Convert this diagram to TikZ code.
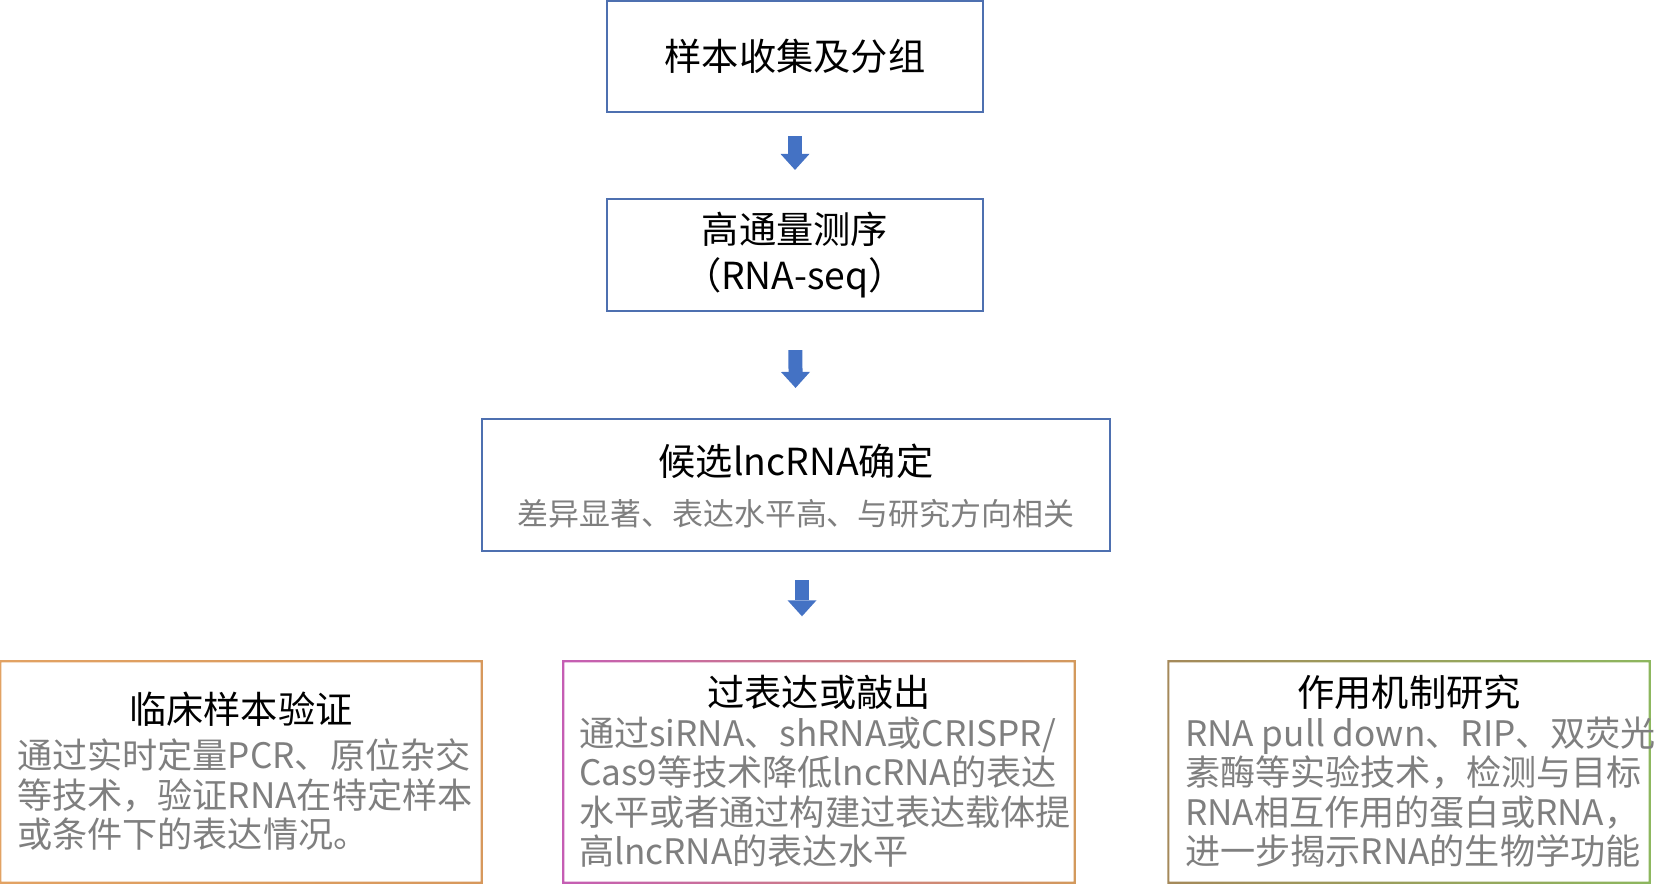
\documentclass[tikz,border=0pt]{standalone}
\usepackage{fontspec}
\setmainfont{Noto Sans CJK SC}
\usetikzlibrary{positioning,arrows.meta,calc}
\definecolor{boxblue}{HTML}{4E70B0}
\definecolor{arrblue}{HTML}{4472C4}
\definecolor{txtgrey}{HTML}{7F7F7F}
\definecolor{clinA}{HTML}{E2A263}
\definecolor{clinB}{HTML}{D7985C}
\definecolor{overA}{HTML}{C55DB4}
\definecolor{overB}{HTML}{D39A5C}
\definecolor{mechA}{HTML}{A5895A}
\definecolor{mechB}{HTML}{8DB75E}
\newcommand{\fsTitle}{\fontsize{10.6}{13.3}\selectfont}
\newcommand{\fsBody}{\fontsize{10}{11.2}\selectfont}
\newcommand{\fsSub}{\fontsize{8.8}{10.5}\selectfont}
\tikzset{
  fl box/.style={draw=boxblue, line width=0.6pt, fill=white, inner sep=0pt, align=center, font=\fsTitle},
  fl plain/.style={inner sep=0pt, fill=white},
  fl title/.style={inner sep=0pt, align=center, font=\fsTitle},
  fl sub/.style={inner sep=0pt, align=center, font=\fsSub, text=txtgrey},
  fl body/.style={inner sep=0pt, align=left, font=\fsBody, text=txtgrey, anchor=north west},
  fl arr/.style={arrblue, line width=1.4mm, -{Triangle[length=1.6mm, width=2.9mm, line width=0pt]}},
}

\begin{document}
\begin{tikzpicture}[x=1cm, y=1cm]
  \useasboundingbox (0,0) rectangle (16.59,-8.87);
  % main column
  \node[fl box, minimum width=3.76cm, minimum height=1.11cm] (col) at (7.95,-0.565) {样本收集及分组};
  \node[fl box, minimum width=3.76cm, minimum height=1.12cm] (seq) at (7.95,-2.55) {高通量测序\\（RNA-seq）};
  \node[fl box, minimum width=6.28cm, minimum height=1.32cm] (res) at (7.96,-4.85) {};
  \node[fl title] (res t) at ([yshift=-4.3mm]res.north) {候选lncRNA确定};
  \node[fl sub] (res s) at ([yshift=-9.6mm]res.north) {差异显著、表达水平高、与研究方向相关};
  % bottom row: three follow-up studies
  \node[fl plain, minimum width=4.80cm, minimum height=2.20cm] (clin) at (2.41,-7.72) {};
  \node[fl plain, minimum width=5.10cm, minimum height=2.20cm] (over) at (8.19,-7.72) {};
  \node[fl plain, minimum width=4.80cm, minimum height=2.20cm] (mech) at (14.09,-7.72) {};
  \foreach \n/\ca/\cb in {clin/clinA/clinB, over/overA/overB, mech/mechA/mechB} {
    \begin{scope}[even odd rule]
      \clip ($(\n.north west)+(-0.3pt,0.3pt)$) rectangle ($(\n.south east)+(0.3pt,-0.3pt)$)
            ($(\n.north west)+(0.3pt,-0.3pt)$) rectangle ($(\n.south east)+(-0.3pt,0.3pt)$);
      \shade[left color=\ca, right color=\cb] ($(\n.north west)+(-1pt,1pt)$) rectangle ($(\n.south east)+(1pt,-1pt)$);
    \end{scope}
  }
  \node[fl title] (clin t) at ([yshift=-4.8mm]clin.north) {临床样本验证};
  \node[fl title] (over t) at ([yshift=-3.1mm]over.north) {过表达或敲出};
  \node[fl title] (mech t) at ([yshift=-3.1mm]mech.north) {作用机制研究};
  \node[fl body] (clin b) at ([xshift=1.6mm, yshift=-7.7mm]clin.north west)
    {通过实时定量PCR、原位杂交\\等技术，验证RNA在特定样本\\或条件下的表达情况。};
  \node[fl body] (over b) at ([xshift=1.5mm, yshift=-5.5mm]over.north west)
    {通过siRNA、shRNA或CRISPR/\\Cas9等技术降低lncRNA的表达\\水平或者通过构建过表达载体提\\高lncRNA的表达水平};
  \node[fl body] (mech b) at ([xshift=1.6mm, yshift=-5.5mm]mech.north west)
    {RNA pull down、RIP、双荧光\\素酶等实验技术，检测与目标\\RNA相互作用的蛋白或RNA，\\进一步揭示RNA的生物学功能};
  % block arrows
  \draw[fl arr, shorten <=2.3mm, shorten >=2.8mm] (col) -- (seq);
  \draw[fl arr, shorten <=3.8mm, shorten >=3mm] (seq) -- (res);
  \draw[fl arr, shorten <=2.8mm, shorten >=4.5mm] ([xshift=0.6mm]res.south) -- ([xshift=0.6mm]res.south |- over.north);
\end{tikzpicture}
\end{document}
